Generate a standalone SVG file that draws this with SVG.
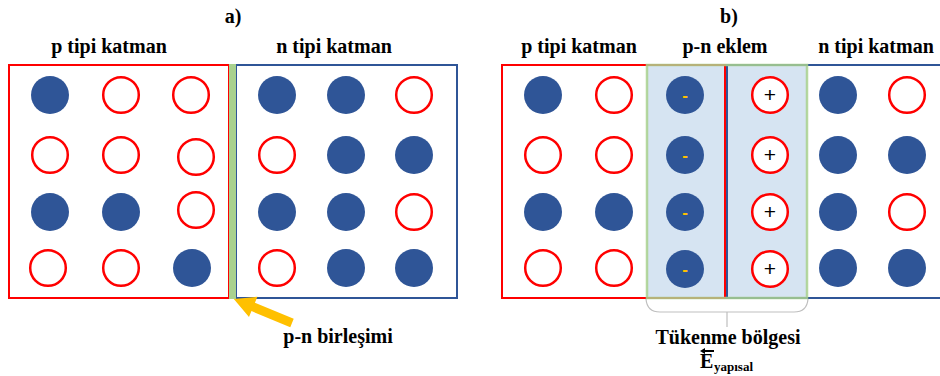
<svg xmlns="http://www.w3.org/2000/svg" width="940" height="376" viewBox="0 0 940 376">
<style>
.t{font-family:"Liberation Serif","Times New Roman",serif;font-weight:bold;font-size:20px;fill:#000;text-anchor:middle}
.f{fill:#2f5597}
.o{fill:#fff;stroke:#ff0000;stroke-width:2.5}
.rb{fill:none;stroke:#ff0000;stroke-width:2}
.bb{fill:none;stroke:#2f5597;stroke-width:2}
.m{font-family:"Liberation Sans",Arial,sans-serif;font-weight:bold;font-size:17px;fill:#ffc000;text-anchor:middle}
.p{font-family:"Liberation Sans",Arial,sans-serif;font-size:21px;fill:#000;text-anchor:middle}
</style>
<rect width="940" height="376" fill="#fff"/>
<!-- Panel a -->
<g id="a-labels">
<text class="t" x="233" y="23">a)</text>
<text class="t" x="109" y="53">p tipi katman</text>
<text class="t" x="334" y="53">n tipi katman</text>
<text class="t" x="338" y="343">p-n birleşimi</text>
</g>
<g id="a-p-layer">
<rect class="rb" x="9" y="65" width="220" height="233"/>
<circle class="f" cx="50" cy="95" r="19"/>
<circle class="o" cx="121" cy="95" r="17.8"/>
<circle class="o" cx="191" cy="95" r="17.8"/>
<circle class="o" cx="50" cy="155" r="17.8"/>
<circle class="o" cx="121" cy="155" r="17.8"/>
<circle class="o" cx="196" cy="157" r="17.8"/>
<circle class="f" cx="50" cy="212" r="19"/>
<circle class="f" cx="121" cy="212" r="19"/>
<circle class="o" cx="196" cy="210" r="17.8"/>
<circle class="o" cx="48" cy="268" r="17.8"/>
<circle class="o" cx="121" cy="268" r="17.8"/>
<circle class="f" cx="192" cy="268" r="19"/>
</g>
<g id="a-n-layer">
<rect class="bb" x="236" y="65" width="221" height="233"/>
<circle class="f" cx="277" cy="95" r="19"/>
<circle class="f" cx="346" cy="95" r="19"/>
<circle class="o" cx="414" cy="95" r="17.8"/>
<circle class="o" cx="277" cy="155" r="17.8"/>
<circle class="f" cx="346" cy="155" r="19"/>
<circle class="f" cx="414" cy="155" r="19"/>
<circle class="f" cx="277" cy="212" r="19"/>
<circle class="f" cx="346" cy="212" r="19"/>
<circle class="o" cx="414" cy="212" r="17.8"/>
<circle class="o" cx="277" cy="268" r="17.8"/>
<circle class="f" cx="346" cy="268" r="19"/>
<circle class="f" cx="414" cy="268" r="19"/>
</g>
<g id="a-junction">
<rect x="229" y="64" width="7" height="235" fill="#a9d18e"/>
</g>
<!-- Panel b -->
<g id="b-labels">
<text class="t" x="729" y="23">b)</text>
<text class="t" x="579" y="53">p tipi katman</text>
<text class="t" x="725" y="53">p-n eklem</text>
<text class="t" x="876" y="53">n tipi katman</text>
<text class="t" x="728" y="344">Tükenme bölgesi</text>
<text class="t" x="700" y="368" style="text-anchor:start">E</text>
<text class="t" x="714" y="371" style="text-anchor:start;font-size:13px">yapısal</text>
<path d="M702,351 L714,351" stroke="#000" stroke-width="2"/>
<polygon points="700,351 705,348 705,354" fill="#000"/>
</g>
<g id="b-depletion">
<rect x="647" y="65" width="160" height="233" fill="#d6e4f2"/>
</g>
<g id="b-p-layer">
<rect class="rb" x="502" y="65" width="223" height="233"/>
<circle class="f" cx="543" cy="95" r="19"/>
<circle class="o" cx="614" cy="95" r="17.8"/>
<circle class="o" cx="543" cy="155" r="17.8"/>
<circle class="o" cx="614" cy="155" r="17.8"/>
<circle class="f" cx="543" cy="212" r="19"/>
<circle class="f" cx="614" cy="212" r="19"/>
<circle class="o" cx="543" cy="268" r="17.8"/>
<circle class="o" cx="614" cy="268" r="17.8"/>
</g>
<g id="b-n-layer">
<rect class="bb" x="727" y="65" width="230" height="233"/>
<circle class="f" cx="838" cy="95" r="19"/>
<circle class="o" cx="907" cy="95" r="17.8"/>
<circle class="f" cx="838" cy="155" r="19"/>
<circle class="f" cx="907" cy="155" r="19"/>
<circle class="f" cx="838" cy="212" r="19"/>
<circle class="o" cx="907" cy="212" r="17.8"/>
<circle class="f" cx="838" cy="268" r="19"/>
<circle class="f" cx="907" cy="268" r="19"/>
</g>
<g id="b-depletion-border">
<rect x="647" y="65" width="160" height="233" fill="none" stroke="#a9d18e" stroke-width="2.5" stroke-opacity="0.85"/>
</g>
<g id="b-ions">
<circle class="f" cx="685" cy="95" r="19"/>
<circle class="f" cx="685" cy="155" r="19"/>
<circle class="f" cx="685" cy="212" r="19"/>
<circle class="f" cx="685" cy="269" r="19"/>
<text class="m" x="685" y="101">-</text>
<text class="m" x="685" y="161">-</text>
<text class="m" x="685" y="218">-</text>
<text class="m" x="685" y="275">-</text>
<circle class="o" cx="770" cy="95" r="17.8"/>
<circle class="o" cx="770" cy="155" r="17.8"/>
<circle class="o" cx="770" cy="212" r="17.8"/>
<circle class="o" cx="770" cy="269" r="17.8"/>
<text class="p" x="770" y="102">+</text>
<text class="p" x="770" y="162">+</text>
<text class="p" x="770" y="219">+</text>
<text class="p" x="770" y="276">+</text>
</g>
<g id="connectors">
<polygon transform="translate(292,323) rotate(202.5)" points="0,-4.5 42,-4.5 42,-11 63,0 42,11 42,4.5 0,4.5" fill="#ffc000"/>
<path d="M646,299 Q647,312 660,312 L794,312 Q807,312 808,299 M727,312 L727,327" fill="none" stroke="#bfbfbf" stroke-width="1.2"/>
</g>
</svg>
